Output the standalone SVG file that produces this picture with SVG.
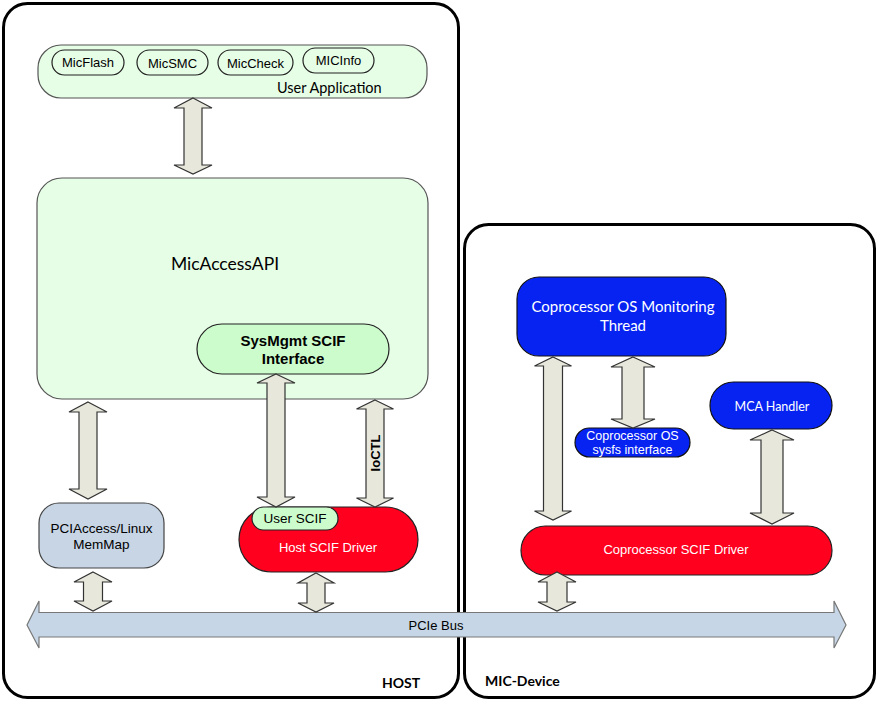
<svg xmlns="http://www.w3.org/2000/svg" width="878" height="704" viewBox="0 0 878 704">
<style>
.cont{fill:#fff;stroke:#000;stroke-width:3}
.green{fill:#e6fde6;stroke:#555;stroke-width:1.2}
.pill{fill:#e6fde6;stroke:#222;stroke-width:1.2}
.lg{fill:#ccfccc;stroke:#222;stroke-width:1.2}
.red{fill:#ff001e;stroke:#222;stroke-width:1.2}
.blue{fill:#0623f2;stroke:#111;stroke-width:1.2}
.steel{fill:#c7d5e5;stroke:#444;stroke-width:1.2}
.arr{fill:#e7e7db;stroke:#333;stroke-width:1.2;stroke-linejoin:miter}
.bus{fill:#c6d6e6;stroke:#777;stroke-width:1.2}
.a{font-family:"Liberation Sans",Arial,sans-serif;fill:#000}
.c{font-family:Lato,"Open Sans",sans-serif;fill:#000}
.w{fill:#fff}
</style>
<g id="host">
<rect class="cont" x="3.5" y="3.5" width="455" height="694" rx="24"/>
<text class="c" x="382" y="688" font-size="14" font-weight="bold">HOST</text>
</g>
<g id="mic-device">
<rect class="cont" x="464.5" y="224.5" width="410" height="473" rx="24"/>
<text class="c" x="485" y="686" font-size="14" font-weight="bold">MIC-Device</text>
</g>
<g id="user-application">
<rect class="green" x="38" y="45" width="389" height="53" rx="23"/>
<text class="c" x="277" y="93" font-size="14.5">User Application</text>
</g>
<g id="micflash">
<rect class="pill" x="52" y="50" width="72" height="25" rx="12.5"/>
<text class="a" x="88" y="67" font-size="13" text-anchor="middle">MicFlash</text>
</g>
<g id="micsmc">
<rect class="pill" x="137" y="50" width="71" height="25" rx="12.5"/>
<text class="a" x="172.5" y="68" font-size="13" text-anchor="middle">MicSMC</text>
</g>
<g id="miccheck">
<rect class="pill" x="218" y="50" width="75" height="25" rx="12.5"/>
<text class="a" x="255.5" y="68" font-size="13" text-anchor="middle">MicCheck</text>
</g>
<g id="micinfo">
<rect class="pill" x="303" y="48" width="71" height="25" rx="12.5"/>
<text class="a" x="338.5" y="65" font-size="13" text-anchor="middle">MICInfo</text>
</g>
<g id="micaccessapi">
<rect class="green" x="37" y="178" width="391" height="221" rx="25"/>
<text class="c" x="225" y="270" font-size="17.5" text-anchor="middle">MicAccessAPI</text>
</g>
<g id="sysmgmt-scif-interface">
<rect class="lg" x="197" y="324" width="192" height="50" rx="25"/>
<text class="a" x="293" y="346" font-size="15" font-weight="bold" text-anchor="middle">SysMgmt SCIF</text>
<text class="a" x="293" y="364" font-size="15" font-weight="bold" text-anchor="middle">Interface</text>
</g>
<g id="pciaccess">
<rect class="steel" x="39" y="503" width="125" height="65" rx="20"/>
<text class="a" x="101.5" y="533" font-size="13.5" text-anchor="middle">PCIAccess/Linux</text>
<text class="a" x="101.5" y="549" font-size="13.5" text-anchor="middle">MemMap</text>
</g>
<g id="host-scif-driver">
<rect class="red" x="239" y="507" width="179" height="65" rx="32.5"/>
<text class="a w" x="328" y="552" font-size="13" text-anchor="middle">Host SCIF Driver</text>
</g>
<g id="user-scif">
<rect class="lg" x="252" y="507" width="86" height="23" rx="11.5"/>
<text class="a" x="295" y="523" font-size="13.5" text-anchor="middle">User SCIF</text>
</g>
<g id="monitoring-thread">
<rect class="blue" x="517" y="277" width="209" height="79" rx="22"/>
<text class="c w" x="623" y="312" font-size="15" text-anchor="middle">Coprocessor OS Monitoring</text>
<text class="c w" x="623" y="331" font-size="15" text-anchor="middle">Thread</text>
</g>
<g id="sysfs-interface">
<rect class="blue" x="575" y="428" width="115" height="29" rx="14.5"/>
<text class="a w" x="632.5" y="439.5" font-size="12.5" text-anchor="middle">Coprocessor OS</text>
<text class="a w" x="632.5" y="454" font-size="12.5" text-anchor="middle">sysfs interface</text>
</g>
<g id="mca-handler">
<rect class="blue" x="710" y="382" width="122" height="47" rx="23.5"/>
<text class="c w" x="772" y="411" font-size="12.5" text-anchor="middle">MCA Handler</text>
</g>
<g id="coprocessor-scif-driver">
<rect class="red" x="521" y="526" width="311" height="49" rx="24.5"/>
<text class="a w" x="676" y="554" font-size="13" text-anchor="middle">Coprocessor SCIF Driver</text>
</g>
<g id="pcie-bus">
<path class="bus" d="M27,625 L39,601 L39,612.5 L834,612.5 L834,601 L846,625 L834,648 L834,637 L39,637 L39,648 Z"/>
<text class="a" x="436" y="629.5" font-size="13" text-anchor="middle">PCIe Bus</text>
</g>
<g id="connectors">
<path class="arr" d="M193,98 L212,108 L202,108 L202,165 L212,165 L193,174 L174,165 L184,165 L184,108 L174,108 Z"/>
<path class="arr" d="M88,402 L107,412 L97,412 L97,489 L107,489 L88,499 L69,489 L79,489 L79,412 L69,412 Z"/>
<path class="arr" d="M276,374 L295,383 L285,383 L285,497 L295,497 L276,507 L257,497 L267,497 L267,383 L257,383 Z"/>
<path class="arr" d="M375,400 L393.5,409 L384,409 L384,498 L393.5,498 L375,507 L356.5,498 L366,498 L366,409 L356.5,409 Z"/>
<text class="a" transform="translate(380,453) rotate(-90)" font-size="13" font-weight="bold" text-anchor="middle">IoCTL</text>
<path class="arr" d="M93,572 L112,582 L102.5,582 L102.5,601 L112,601 L93,611 L74,601 L83.5,601 L83.5,582 L74,582 Z"/>
<path class="arr" d="M316,573 L334,583 L325,583 L325,603 L334,603 L316,612 L298,603 L307,603 L307,583 L298,583 Z"/>
<path class="arr" d="M553,357 L571.5,366 L562.5,366 L562.5,511 L571.5,511 L553,520 L534.5,511 L543.5,511 L543.5,366 L534.5,366 Z"/>
<path class="arr" d="M633,357 L655,367 L644,367 L644,419 L655,419 L633,428 L611,419 L622,419 L622,367 L611,367 Z"/>
<path class="arr" d="M772,430 L794,440 L783,440 L783,513 L794,513 L772,524 L750,513 L761,513 L761,440 L750,440 Z"/>
<path class="arr" d="M557,572 L576,582 L567,582 L567,602 L576,602 L557,611 L538,602 L547,602 L547,582 L538,582 Z"/>
</g>
</svg>
